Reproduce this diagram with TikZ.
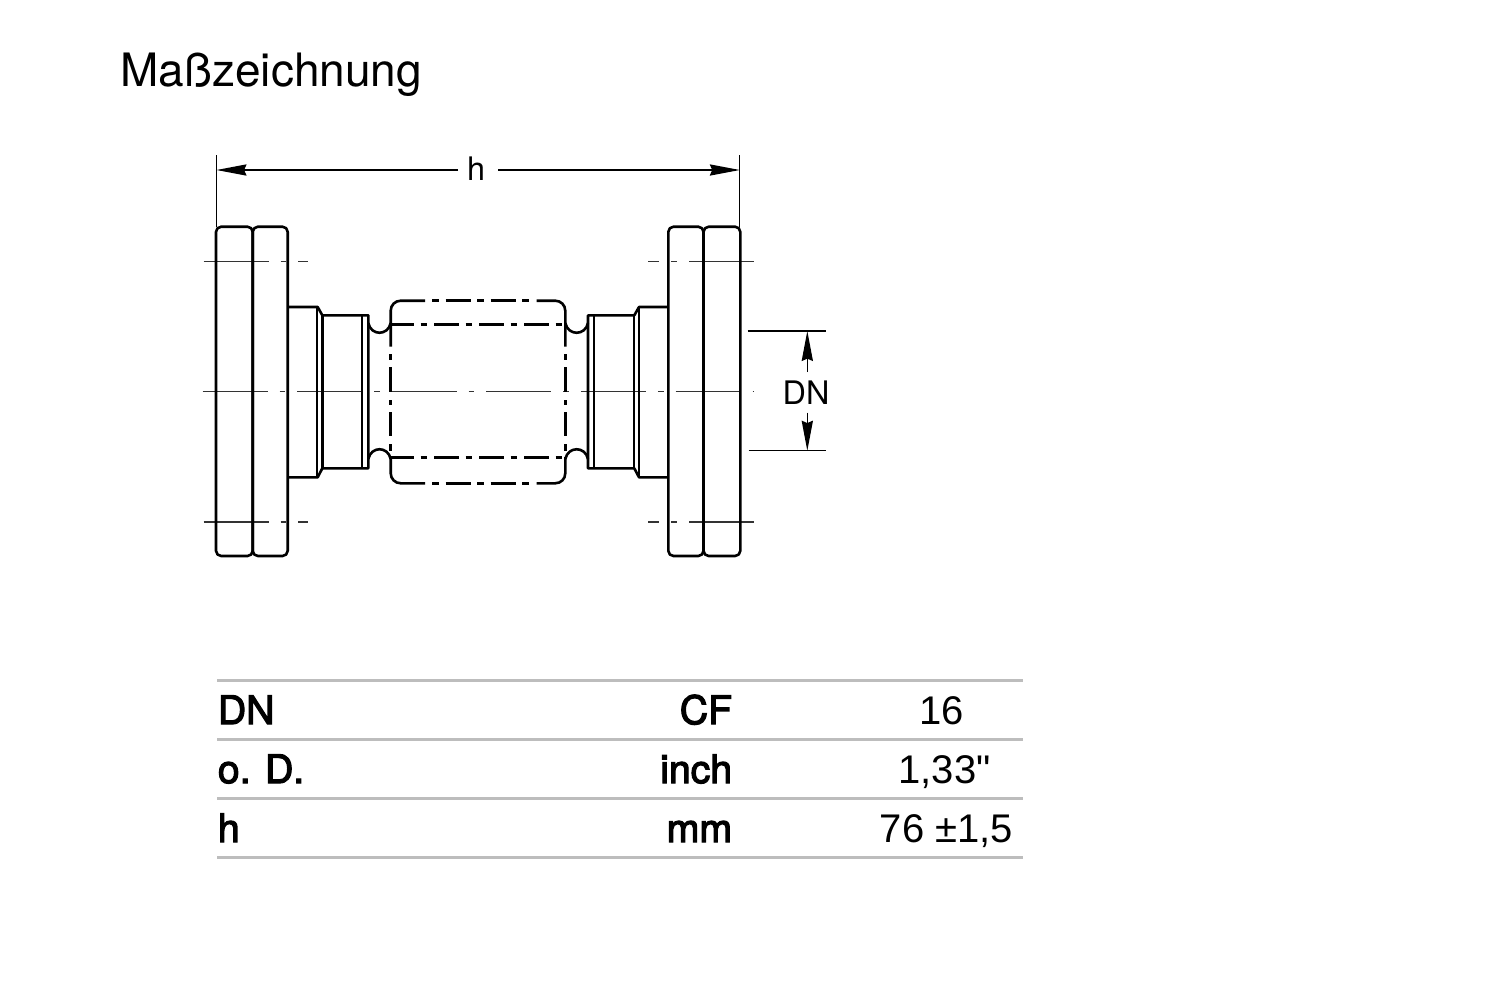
\documentclass[tikz,border=0pt]{standalone}
\usepackage{fontspec}
\usetikzlibrary{arrows.meta}
\setmainfont{TeX Gyre Heros}
\newfontfamily\medfont[RawFeature={embolden=3}]{TeX Gyre Heros}
\newfontfamily\valfont{Liberation Sans}
\definecolor{thinc}{HTML}{333333}
\definecolor{rulec}{HTML}{BDBDBD}
\tikzset{
  outline/.style={line width=1.3pt,black,line join=round},
  fine/.style={line width=0.9pt,black},
  centre/.style={line width=0.78pt,thinc,dash pattern=on 32.5pt off 6pt on 2.8pt off 6pt},
  dim/.style={line width=0.65pt,black},
  dimarrow/.style={dim,-{Stealth[length=15pt,width=5.6pt,inset=1.2pt]}},
  tablerule/.style={line width=1.4pt,rulec},
  head/.style={inner sep=0pt,font=\fontsize{19.6}{19.6}\selectfont\medfont},
  val/.style={inner sep=0pt,font=\fontsize{20}{20}\selectfont\valfont},
  dimlabel/.style={inner sep=0pt,font=\fontsize{16.2}{16.2}\selectfont}
}
\begin{document}
\begin{tikzpicture}[x=0.5pt,y=-0.5pt]
\useasboundingbox (0,0) rectangle (1502,1002);
\fill[white] (0,0) rectangle (1502,1002);
% title
\node[anchor=base west,inner sep=0pt,font=\fontsize{23}{23}\selectfont] (title) at (120,86) {Maßzeichnung};
% centre lines
\draw[centre] (202.5,391.7) -- (753.5,391.7);
\draw[centre] (203.5,261.7) -- (307.7,261.7);
\draw[centre] (203.5,522) -- (307.7,522);
\draw[centre,xscale=-1] (-753.5,261.7) -- (-648,261.7);
\draw[centre,xscale=-1] (-753.5,522) -- (-648,522);
% flanges
\draw[outline,rounded corners=2.6pt] (216,226.7) rectangle (252.7,556);
\draw[outline,rounded corners=2.6pt] (252.7,226.7) rectangle (287.7,556);
\draw[outline,rounded corners=2.6pt] (668.3,226.7) rectangle (703.5,556);
\draw[outline,rounded corners=2.6pt] (703.5,226.7) rectangle (740.3,556);
% left hub
\draw[outline] (287.7,307) -- (317.7,307) -- (322.3,315.3) -- (368.3,315.3) -- (368.3,468.3) -- (322.3,468.3) -- (317.7,477.3) -- (287.7,477.3);
\draw[outline] (322.3,315.3) -- (322.3,468.3);
\draw[fine] (316.9,307) -- (316.9,477.3);
\draw[fine] (361.7,315.3) -- (361.7,468.3);
% right hub
\draw[outline] (668.3,307) -- (639,307) -- (634.3,315.3) -- (588,315.3) -- (588,468.3) -- (634.3,468.3) -- (639,477.3) -- (668.3,477.3);
\draw[outline] (594,315.3) -- (594,468.3);
\draw[fine] (634.3,315.3) -- (634.3,468.3);
\draw[fine] (639,307) -- (639,477.3);
% notches
\draw[outline] (368.3,323) .. controls (371,336) and (388,336) .. (390.7,323);
\draw[outline] (565.3,323) .. controls (568,336) and (585.3,336) .. (588,323);
\draw[outline] (368.3,459) .. controls (371,446) and (388,446) .. (390.7,459);
\draw[outline] (565.3,459) .. controls (568,446) and (585.3,446) .. (588,459);
% hidden body: solid corners
\draw[outline,rounded corners=5pt] (390.7,346.5) -- (390.7,300.7) -- (425,300.7);
\draw[outline,rounded corners=5pt] (536.7,300.7) -- (565.3,300.7) -- (565.3,346.5);
\draw[outline,rounded corners=5pt] (390.7,457) -- (390.7,483.3) -- (425,483.3);
\draw[outline,rounded corners=5pt] (536.7,483.3) -- (565.3,483.3) -- (565.3,457);
% hidden body: chain-dotted runs
\foreach \a/\b in {432.3/439,445.7/470.7,477.3/484,490.7/515.7,522.3/529}{
  \draw[outline] (\a,300.7) -- (\b,300.7);
  \draw[outline] (\a,483.3) -- (\b,483.3);
}
\foreach \a/\b in {390.7/414,420.7/427.3,434/459,465.7/472.3,479/504,510.7/517.3,524/549,555.7/562.3}{
  \draw[outline] (\a,324.3) -- (\b,324.3);
  \draw[outline] (\a,457.7) -- (\b,457.7);
}
\foreach \a/\b in {354/360,367/392,400/405,412/436,444/451}{
  \draw[outline] (390.7,\a) -- (390.7,\b);
  \draw[outline] (565.3,\a) -- (565.3,\b);
}
% dimension h
\coordinate (hl) at (216.5,170);
\coordinate (hr) at (739.8,170);
\draw[dim] (216.5,155) -- (216.5,226.7);
\draw[dim] (739.8,155) -- (739.8,226.7);
\node[dimlabel] (hlabel) at (476,169) {h};
\draw[dimarrow] (458,170) -- (hl);
\draw[dimarrow] (498,170) -- (hr);
% dimension DN
\coordinate (dnt) at (807.3,331);
\coordinate (dnb) at (807.3,450.7);
\draw[dim] (747.5,331) -- (826,331);
\draw[dim] (748.5,450.7) -- (826,450.7);
\node[dimlabel] (dnlabel) at (806,392.5) {DN};
\draw[dimarrow] (807.3,372) -- (dnt);
\draw[dimarrow] (807.3,412.5) -- (dnb);
% table
\draw[tablerule] (217,680.5) -- (1023,680.5);
\draw[tablerule] (217,739.8) -- (1023,739.8);
\draw[tablerule] (217,798.5) -- (1023,798.5);
\draw[tablerule] (217,857.7) -- (1023,857.7);
\node[head,anchor=base west] (r1a) at (217.5,724) {DN};
\node[head,anchor=base east] (r1b) at (732.5,724) {CF};
\node[val,anchor=base] (r1c) at (941.5,724) {16};
\node[head,anchor=base west] (r2a) at (217.5,783) {o. D.};
\node[head,anchor=base east] (r2b) at (732.5,783) {inch};
\node[val,anchor=base] (r2c) at (944.5,783) {1,33"};
\node[head,anchor=base west] (r3a) at (217.5,842) {h};
\node[head,anchor=base east] (r3b) at (732.5,842) {mm};
\node[val,anchor=base] (r3c) at (946.5,842) {76 ±1,5};
\end{tikzpicture}
\end{document}
